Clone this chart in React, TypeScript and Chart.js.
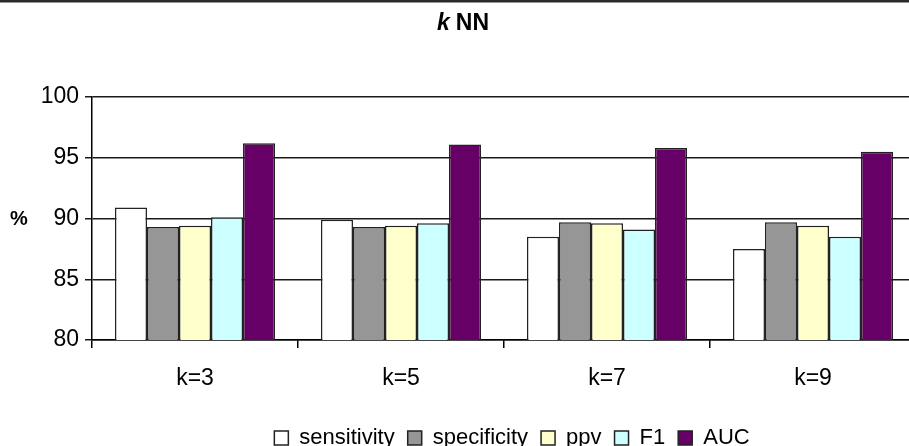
import React, { useEffect, useRef } from "react";
import { Chart, registerables } from "chart.js";

Chart.register(...registerables);

const categories = ["k=3", "k=5", "k=7", "k=9"];
const sensitivity = [90.9, 89.9, 88.5, 87.5];
const specificity = [89.3, 89.3, 89.7, 89.7];
const ppv = [89.4, 89.4, 89.6, 89.4];
const f1 = [90.1, 89.6, 89.1, 88.5];
const auc = [96.2, 96.1, 95.8, 95.5];

const seriesNames = ["sensitivity", "specificity", "ppv", "F1", "AUC"];
const seriesColors = ["#FFFFFF", "#969696", "#FFFFCC", "#CCFFFF", "#660066"];
const seriesValues = [sensitivity, specificity, ppv, f1, auc];

const yMin = 80;
const yMax = 100;
const yStep = 5;

const FONT = "'Liberation Sans', Arial, sans-serif";

const decorPlugin = {
  id: "decor",
  afterLayout(chart: any) {
    const lg = chart.legend;
    if (lg) {
      lg.left += 8;
      lg.right += 8;
    }
  },
  afterDraw(chart: any) {
    const ctx = chart.ctx;
    ctx.save();
    // top border
    ctx.fillStyle = "#2a2a2a";
    ctx.fillRect(0, 0, chart.width, 2.5);
    // title: italic k + NN
    ctx.fillStyle = "#000";
    ctx.textBaseline = "middle";
    ctx.textAlign = "left";
    const f1s = `italic bold 23px ${FONT}`;
    const f2s = `bold 23px ${FONT}`;
    ctx.font = f1s;
    const wk = ctx.measureText("k").width;
    ctx.font = f2s;
    const wn = ctx.measureText("NN").width;
    const gap = 6;
    const total = wk + gap + wn;
    const cx = 463;
    const x0 = cx - total / 2;
    ctx.font = f1s;
    ctx.fillText("k", x0, 24);
    ctx.font = f2s;
    ctx.fillText("NN", x0 + wk + gap, 24);
    // y-axis title
    ctx.textAlign = "center";
    ctx.font = `bold 20px ${FONT}`;
    ctx.fillText("%", 19, 219);
    ctx.restore();
  },
};

export default function App() {
  const ref = useRef<HTMLCanvasElement | null>(null);

  useEffect(() => {
    if (!ref.current) return;
    const chart = new Chart(ref.current, {
      type: "bar",
      data: {
        labels: categories,
        datasets: seriesNames.map((name, i) => ({
          label: name,
          data: seriesValues[i],
          backgroundColor: seriesColors[i],
          borderColor: "#222",
          borderWidth: 1.5,
          categoryPercentage: 0.777,
          barPercentage: 1,
        })),
      },
      options: {
        responsive: false,
        animation: false,
        devicePixelRatio: 1,
        layout: { padding: { top: 97, left: 0, right: 9, bottom: 1 } },
        plugins: {
          title: { display: false },
          tooltip: { enabled: false },
          legend: {
            position: "bottom",
            fullSize: false,
            labels: {
              color: "#000",
              font: { family: FONT, size: 22 },
              boxWidth: 14,
              boxHeight: 14,
              padding: 13,
            },
          },
        },
        scales: {
          x: {
            grid: {
              display: true,
              drawOnChartArea: false,
              drawTicks: true,
              tickLength: 8,
              color: "#000",
              lineWidth: 1.5,
            },
            border: { color: "#000", width: 1.5 },
            ticks: {
              color: "#000",
              font: { family: FONT, size: 23 },
              padding: 17,
            },
            afterFit: (s: any) => {
              s.height = 74;
            },
          },
          y: {
            min: yMin,
            max: yMax,
            ticks: {
              stepSize: yStep,
              color: "#000",
              font: { family: FONT, size: 23 },
              padding: 6,
            },
            grid: {
              color: "#1a1a1a",
              lineWidth: 1.5,
              tickLength: 7,
            },
            border: { color: "#000", width: 1.5 },
            afterFit: (s: any) => {
              s.width = 92;
            },
          },
        },
      },
      plugins: [decorPlugin],
    });
    return () => chart.destroy();
  }, []);

  return (
    <>
      <style>{`body{margin:0;}`}</style>
      <div style={{ width: 909, height: 446, overflow: "hidden", position: "relative" }}>
        <canvas ref={ref} width={925} height={460} style={{ display: "block" }} />
      </div>
    </>
  );
}
